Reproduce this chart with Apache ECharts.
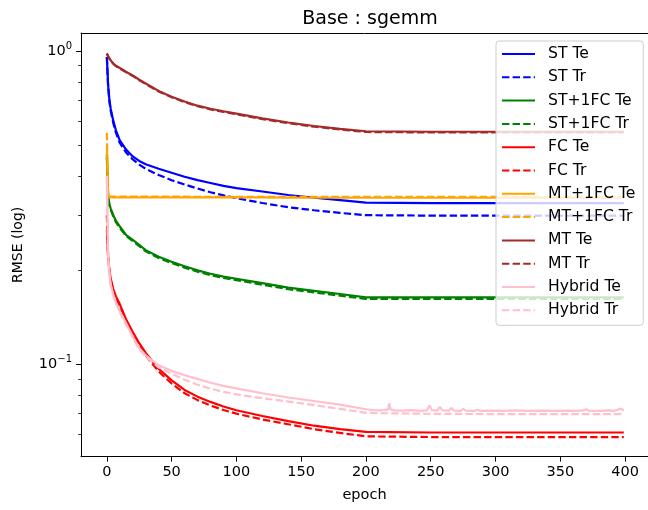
<!DOCTYPE html>
<html>
<head>
<meta charset="utf-8">
<script src="https://cdn.jsdelivr.net/npm/echarts@6/dist/echarts.min.js"></script>
<style>html,body{margin:0;padding:0;background:#fff;}#c{width:648px;height:510px;}</style>
</head>
<body>
<div id="c"></div>
<script>
const epochs = [0,1,2,3,5,7,10,15,20,25,30,40,50,60,70,80,90,100,120,140,160,180,200,250,300,350,399];

const stTe = [0.96,0.78,0.70,0.655,0.60,0.56,0.52,0.485,0.462,0.447,0.436,0.422,0.410,0.398,0.388,0.380,0.372,0.366,0.357,0.348,0.341,0.335,0.329,0.328,0.328,0.328,0.328];
const stTr = [0.96,0.77,0.69,0.645,0.59,0.55,0.51,0.475,0.452,0.435,0.422,0.403,0.388,0.376,0.365,0.355,0.347,0.340,0.328,0.318,0.311,0.305,0.300,0.299,0.299,0.299,0.299];
const st1fcTe = [0.47,0.345,0.325,0.315,0.300,0.288,0.276,0.259,0.250,0.241,0.232,0.221,0.213,0.206,0.200,0.195,0.191,0.188,0.182,0.176,0.172,0.168,0.164,0.164,0.164,0.164,0.164];
const st1fcTr = [0.46,0.34,0.322,0.312,0.297,0.285,0.273,0.257,0.248,0.239,0.230,0.219,0.211,0.204,0.198,0.193,0.189,0.186,0.180,0.174,0.170,0.166,0.162,0.162,0.162,0.162,0.162];
const fcTe = [0.27,0.22,0.20,0.188,0.174,0.165,0.156,0.139,0.127,0.117,0.109,0.097,0.089,0.083,0.079,0.076,0.0735,0.0715,0.0685,0.066,0.0638,0.0622,0.0610,0.0607,0.0607,0.0607,0.0607];
const fcTr = [0.30,0.22,0.199,0.186,0.172,0.163,0.154,0.137,0.125,0.115,0.107,0.095,0.087,0.081,0.077,0.074,0.0716,0.0697,0.0668,0.0645,0.0622,0.0605,0.0590,0.0587,0.0587,0.0587,0.0587];
const mt1fcTe = [0.50,0.345,0.343,0.342,0.342,0.342,0.342,0.342,0.342,0.342,0.342,0.342,0.342,0.342,0.342,0.342,0.342,0.342,0.342,0.341,0.341,0.341,0.341,0.341,0.341,0.341,0.341];
const mt1fcTr = [0.55,0.347,0.345,0.344,0.344,0.344,0.344,0.344,0.344,0.344,0.344,0.344,0.344,0.344,0.343,0.343,0.343,0.343,0.343,0.343,0.343,0.343,0.343,0.343,0.343,0.343,0.343];
const mtTe = [0.985,0.965,0.95,0.935,0.915,0.90,0.885,0.86,0.838,0.812,0.79,0.748,0.717,0.692,0.671,0.656,0.644,0.633,0.611,0.593,0.578,0.566,0.556,0.554,0.554,0.554,0.554];
const mtTr = [0.985,0.963,0.948,0.933,0.913,0.898,0.882,0.857,0.835,0.809,0.787,0.745,0.714,0.689,0.668,0.653,0.641,0.630,0.608,0.590,0.575,0.563,0.553,0.551,0.551,0.551,0.551];
const hybTeEpochs = [0,1,2,3,5,7,10,15,20,25,30,40,50,60,70,80,90,100,120,140,160,180,200,
  205,210,214,217,218,219,222,228,235,242,247,249,251,255,257,259,264,266,268,273,275,277,284,286,288,295,305,315,325,335,345,355,362,368,370,372,380,388,392,397,399];
const hybTe = [0.40,0.22,0.195,0.18,0.167,0.158,0.148,0.135,0.123,0.113,0.107,0.0995,0.0955,0.0925,0.0900,0.0875,0.0855,0.0840,0.0810,0.0785,0.0765,0.0745,0.0720,
  0.0716,0.0714,0.0716,0.0718,0.0752,0.0719,0.0714,0.0713,0.0715,0.0712,0.0714,0.0740,0.0715,0.0713,0.0732,0.0714,0.0713,0.0727,0.0713,0.0712,
  0.0722,0.0713,0.0712,0.0718,0.0712,0.0713,0.0712,0.0714,0.0712,0.0713,0.0712,0.0713,0.0712,0.0714,0.0720,0.0713,0.0712,0.0714,0.0712,0.0724,0.0713];
const hybTr = [0.40,0.22,0.194,0.179,0.166,0.157,0.147,0.134,0.122,0.112,0.106,0.098,0.0935,0.0895,0.0862,0.0838,0.0818,0.0803,0.0781,0.0762,0.0742,0.0722,0.0701,0.0696,0.0695,0.0695,0.0695];

const xTicks = [0,50,100,150,200,250,300,350,400];
const yMajor = [0.1, 1];
const yMinor = [0.06,0.07,0.08,0.09,0.2,0.3,0.4,0.5,0.6,0.7,0.8,0.9];

const FONT = 'DejaVu Sans';
function mk(name, xs, ys, color, dashed) {
  return {
    name: name, type: 'line', showSymbol: false, symbol: 'none', animation: false,
    data: xs.map((x, i) => [x, ys[i]]),
    lineStyle: { color: color, width: 2.2, type: dashed ? [7.4, 3.2] : 'solid' },
    itemStyle: { color: color },
    emphasis: { disabled: true }
  };
}
const series = [
  mk('ST Te', epochs, stTe, '#0000ff', false),
  mk('ST Tr', epochs, stTr, '#0000ff', true),
  mk('ST+1FC Te', epochs, st1fcTe, '#008000', false),
  mk('ST+1FC Tr', epochs, st1fcTr, '#008000', true),
  mk('FC Te', epochs, fcTe, '#ff0000', false),
  mk('FC Tr', epochs, fcTr, '#ff0000', true),
  mk('MT+1FC Te', epochs, mt1fcTe, '#ffa500', false),
  mk('MT+1FC Tr', epochs, mt1fcTr, '#ffa500', true),
  mk('MT Te', epochs, mtTe, '#a52a2a', false),
  mk('MT Tr', epochs, mtTr, '#a52a2a', true),
  mk('Hybrid Te', hybTeEpochs, hybTe, '#ffc0cb', false),
  mk('Hybrid Tr', epochs, hybTr, '#ffc0cb', true)
];

const chart = echarts.init(document.getElementById('c'), null, { renderer: 'canvas' });
chart.setOption({
  animation: false,
  backgroundColor: '#ffffff',
  title: {
    text: 'Base : sgemm', left: 365, top: 5, textAlign: 'center',
    textStyle: { fontFamily: FONT, fontSize: 19, fontWeight: 'normal', color: '#000' }
  },
  legend: {
    orient: 'vertical', left: 496, top: 41,
    itemWidth: 33, itemHeight: 14, itemGap: 7.3,
    padding: [5, 8, 7, 5],
    borderColor: '#cccccc', borderWidth: 1, borderRadius: 3,
    backgroundColor: 'rgba(255,255,255,0.8)',
    itemStyle: { opacity: 0 },
    textStyle: { fontFamily: FONT, fontSize: 15.6, lineHeight: 16, color: '#000', padding: [0, 0, 0, 8] },
    data: series.map(s => s.name)
  },
  grid: { left: 81, right: 0, top: 33, bottom: 53.3, show: false, outerBoundsMode: 'none' },
  xAxis: [{
    type: 'value', min: -19.95, max: 417.7, position: 'bottom',
    name: 'epoch', nameLocation: 'middle', nameGap: 31,
    nameTextStyle: { fontFamily: FONT, fontSize: 14.5, color: '#000' },
    axisLine: { show: true, onZero: false, lineStyle: { color: '#000', width: 1 } },
    axisTick: { show: true, length: 4.9, lineStyle: { color: '#000', width: 1 }, customValues: xTicks },
    axisLabel: { fontFamily: FONT, fontSize: 14.5, color: '#000', margin: 8, customValues: xTicks },
    splitLine: { show: false }
  }, {
    type: 'value', min: -19.95, max: 417.7, position: 'top',
    axisLine: { show: true, onZero: false, lineStyle: { color: '#000', width: 1 } },
    axisTick: { show: false }, axisLabel: { show: false }, splitLine: { show: false }
  }],
  yAxis: [{
    type: 'log', logBase: 10, min: 0.0508, max: 1.145, position: 'left',
    name: 'RMSE (log)', nameLocation: 'middle', nameGap: 56,
    nameTextStyle: { fontFamily: FONT, fontSize: 14, color: '#000' },
    axisLine: { show: true, onZero: false, lineStyle: { color: '#000', width: 1 } },
    axisTick: { show: true, length: 4.9, lineStyle: { color: '#000', width: 1 }, customValues: yMajor },
    axisLabel: {
      margin: 9, customValues: yMajor,
      formatter: v => (v > 0.5 ? '{b|10}{s|0}' : '{b|10}{s|\u22121}'),
      rich: {
        b: { fontFamily: FONT, fontSize: 14.5, color: '#000', verticalAlign: 'bottom', lineHeight: 15 },
        s: { fontFamily: FONT, fontSize: 10, color: '#000', verticalAlign: 'bottom', lineHeight: 10, padding: [0, 0, 8, 0] }
      }
    },
    splitLine: { show: false }
  }, {
    type: 'log', logBase: 10, min: 0.0508, max: 1.145, position: 'left',
    axisLine: { show: false, onZero: false },
    axisTick: { show: true, length: 2.8, lineStyle: { color: '#000', width: 0.8 }, customValues: yMinor },
    axisLabel: { show: false }, splitLine: { show: false }
  }],
  series: series
});
</script>
</body>
</html>
